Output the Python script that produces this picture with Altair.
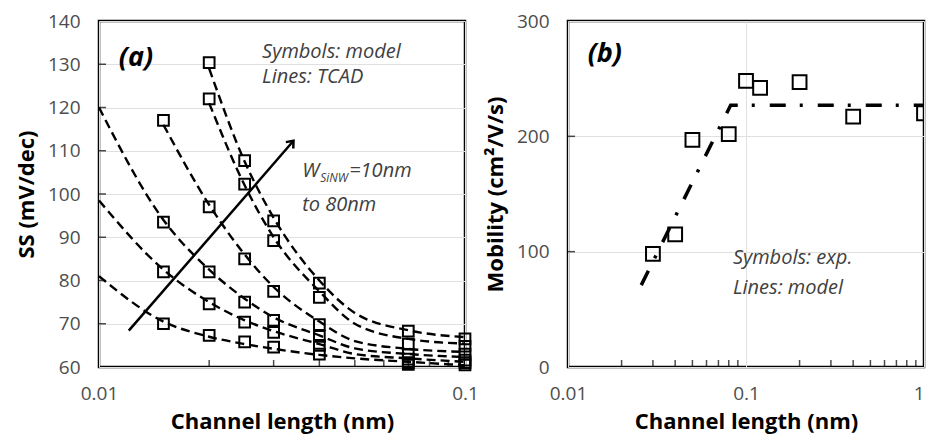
import altair as alt
import pandas as pd

# ---------------- Panel (a): SS vs channel length ----------------
W_LABELS = ["W1", "W2", "W3", "W4", "W5", "W6"]

MODEL_L = [0.015, 0.02, 0.025, 0.03, 0.04, 0.07, 0.1]
MODEL_SS = [
    [70.0, 67.3, 65.8, 64.6, 63.0, 60.6, 60.5],
    [82.0, 74.6, 70.4, 68.0, 65.0, 61.0, 61.0],
    [93.5, 82.0, 75.0, 70.8, 67.1, 61.8, 61.6],
    [117.0, 97.0, 85.0, 77.5, 69.8, 62.9, 63.0],
    [None, 122.0, 102.3, 89.2, 76.1, 65.3, 64.8],
    [None, 130.4, 107.7, 93.8, 79.4, 68.3, 66.5],
]

TCAD_L = [0.01, 0.015, 0.02, 0.025, 0.03, 0.04, 0.05, 0.07, 0.1]
TCAD_SS = [
    [81.0, 70.5, 67.0, 65.3, 64.2, 62.8, 62.0, 61.2, 60.4],
    [98.5, 82.5, 75.0, 70.8, 68.3, 65.3, 63.0, 62.0, 61.2],
    [120.0, 94.0, 82.5, 75.8, 71.5, 67.3, 64.3, 63.0, 62.3],
    [None, 116.0, 97.5, 86.0, 78.5, 70.5, 66.0, 64.2, 63.5],
    [None, None, 121.0, 102.0, 90.0, 77.5, 70.0, 66.5, 65.4],
    [None, None, 129.0, 107.5, 94.5, 80.0, 72.5, 68.5, 66.9],
]

ARROW_L = [0.01206, 0.034]
ARROW_SS = [68.4, 112.3]

SS_TICKS = [60, 70, 80, 90, 100, 110, 120, 130, 140]
A_MINOR_X = [0.02, 0.03, 0.04, 0.05, 0.06, 0.07, 0.08, 0.09]
A_MINOR_Y = [70, 80, 90, 100, 110, 120, 130]

# ---------------- Panel (b): mobility vs channel length ----------------
EXP_L = [0.03, 0.04, 0.05, 0.08, 0.1, 0.12, 0.2, 0.4, 1.0]
EXP_MOB = [98, 115, 197, 202, 248, 242, 247, 217, 220]
MODEL_L_B = [0.0258, 0.082, 1.0]
MODEL_MOB = [71, 227, 227]
MOB_TICKS = [0, 100, 200, 300]
B_MINOR_X = [0.02, 0.03, 0.04, 0.05, 0.06, 0.07, 0.08, 0.09,
             0.2, 0.3, 0.4, 0.5, 0.6, 0.7, 0.8, 0.9]
B_MINOR_Y = [100, 200]

FONT = "Open Sans"
LABEL_COLOR = "#4d4d4d"
NOTE_COLOR = "#404040"
WA, WB, H = 366, 356, 346

def build_long(xs, rows):
    recs = []
    for name, row in zip(W_LABELS, rows):
        for x, y in zip(xs, row):
            if y is not None:
                recs.append({"L": x, "v": y, "s": name})
    return pd.DataFrame(recs)

model_df = build_long(MODEL_L, MODEL_SS)
tcad_df = build_long(TCAD_L, TCAD_SS)
arrow_df = pd.DataFrame({"L": ARROW_L, "v": ARROW_SS})
arrow_tip = arrow_df.iloc[[-1]]

def x_enc(domain, values):
    return alt.X("L:Q", scale=alt.Scale(type="log", domain=domain),
                 axis=alt.Axis(values=values, format="~g", grid=True, gridColor="#e0e0e0",
                               domain=False, ticks=False, labelPadding=17, labelFontSize=19,
                               labelFlush=False,
                               labelAlign={"condition": {"test": "datum.value >= 1", "value": "right"},
                                           "value": "center"},
                               labelColor=LABEL_COLOR, labelFont=FONT,
                               title="Channel length (nm)", titleFont=FONT, titleFontSize=22,
                               titleFontWeight="bold", titleColor="black", titlePadding=8))

def y_enc(domain, values, title):
    return alt.Y("v:Q", scale=alt.Scale(domain=domain, nice=False, zero=False),
                 axis=alt.Axis(values=values, grid=True, gridColor="#e0e0e0", domain=False,
                               ticks=False, labelPadding=19, labelFontSize=19,
                               labelColor=LABEL_COLOR, labelFont=FONT,
                               title=title, titleFont=FONT, titleFontSize=22,
                               titleFontWeight="bold", titleColor="black", titlePadding=9))

note_style = dict(font=FONT, fontSize=20, fontStyle="italic", color=NOTE_COLOR,
                  align="left", baseline="alphabetic")

xa = x_enc([0.01, 0.1], [0.01, 0.1])
ya = y_enc([60, 140], SS_TICKS, "SS (mV/dec)")

a_lines = alt.Chart(tcad_df).mark_line(
    color="black", strokeWidth=2.4, strokeDash=[9, 5], interpolate="monotone", clip=True
).encode(x=xa, y=ya, detail="s:N")

a_pts = alt.Chart(model_df).mark_point(
    shape="square", filled=False, size=115, strokeWidth=2, color="black", opacity=1
).encode(x="L:Q", y="v:Q")

a_arrow = alt.Chart(arrow_df).mark_line(color="black", strokeWidth=2.5).encode(x="L:Q", y="v:Q")
a_head = alt.Chart(arrow_tip).mark_point(
    shape="M -0.9 1.1 L 0 0 L 0.9 1.1", filled=False, strokeWidth=2.5, color="black",
    size=120, angle=41, opacity=1
).encode(x="L:Q", y="v:Q")

a_xt = alt.Chart(pd.DataFrame({"L": A_MINOR_X})).mark_tick(
    orient="vertical", color="black", size=7, thickness=1.5
).encode(x="L:Q", y=alt.value(H - 3.5))
a_yt = alt.Chart(pd.DataFrame({"v": A_MINOR_Y})).mark_tick(
    orient="horizontal", color="black", size=7, thickness=1.5
).encode(y="v:Q", x=alt.value(3.5))

A_TEXT = ["(a)"]
A_TEXT_L = [0.01262]
A_TEXT_V = [131.5]
a_label = alt.Chart(pd.DataFrame({"L": A_TEXT_L, "v": A_TEXT_V, "t": A_TEXT})).mark_text(
    font=FONT, fontSize=27, fontWeight="bold", fontStyle="italic", color="black"
).encode(x="L:Q", y="v:Q", text="t:N")

NOTE_A = ["Symbols: model", "Lines: TCAD"]
NOTE_A_L = [0.0279, 0.0279]
NOTE_A_V = [131.4, 125.6]
a_note = alt.Chart(pd.DataFrame({"L": NOTE_A_L, "v": NOTE_A_V, "t": NOTE_A})).mark_text(
    **note_style
).encode(x="L:Q", y="v:Q", text="t:N")

W_L = [0.0359]
W_V = [103.9]
wdf = pd.DataFrame({"L": W_L, "v": W_V})
w_main = alt.Chart(wdf).mark_text(**note_style).encode(x="L:Q", y="v:Q", text=alt.value("W"))
w_sub = alt.Chart(wdf).mark_text(
    font=FONT, fontSize=12, fontStyle="italic", color=NOTE_COLOR, align="left",
    baseline="alphabetic", dx=18, dy=5
).encode(x="L:Q", y="v:Q", text=alt.value("SiNW"))
w_rest = alt.Chart(wdf).mark_text(**note_style, dx=47).encode(
    x="L:Q", y="v:Q", text=alt.value("=10nm"))
TO_L = [0.0359]
TO_V = [96.1]
w_to = alt.Chart(pd.DataFrame({"L": TO_L, "v": TO_V})).mark_text(**note_style).encode(
    x="L:Q", y="v:Q", text=alt.value("to 80nm"))

panel_a = alt.layer(a_lines, a_pts, a_arrow, a_head, a_xt, a_yt, a_label, a_note,
                    w_main, w_sub, w_rest, w_to).properties(width=WA, height=H)

# ---------------- Panel (b) ----------------
exp_df = pd.DataFrame({"L": EXP_L, "v": EXP_MOB})
mod_df = pd.DataFrame({"L": MODEL_L_B, "v": MODEL_MOB})

xb = x_enc([0.01, 1.0], [0.01, 0.1, 1.0])
yb = y_enc([0, 300], MOB_TICKS, "Mobility (cm²/V/s)")

b_line = alt.Chart(mod_df).mark_line(
    color="black", strokeWidth=3.5, strokeDash=[16, 14, 3, 15], clip=True
).encode(x=xb, y=yb)
b_pts = alt.Chart(exp_df).mark_point(
    shape="square", filled=False, size=190, strokeWidth=2, color="black", opacity=1, clip=True
).encode(x="L:Q", y="v:Q")
b_xt = alt.Chart(pd.DataFrame({"L": B_MINOR_X})).mark_tick(
    orient="vertical", color="black", size=7, thickness=1.5
).encode(x="L:Q", y=alt.value(H - 3.5))
b_yt = alt.Chart(pd.DataFrame({"v": B_MINOR_Y})).mark_tick(
    orient="horizontal", color="black", size=7, thickness=1.5
).encode(y="v:Q", x=alt.value(3.5))

B_TEXT = ["(b)"]
B_TEXT_L = [0.0161]
B_TEXT_V = [271]
b_label = alt.Chart(pd.DataFrame({"L": B_TEXT_L, "v": B_TEXT_V, "t": B_TEXT})).mark_text(
    font=FONT, fontSize=27, fontWeight="bold", fontStyle="italic", color="black"
).encode(x="L:Q", y="v:Q", text="t:N")

NOTE_B = ["Symbols: exp.", "Lines: model"]
NOTE_B_L = [0.0844, 0.0844]
NOTE_B_V = [89, 63]
b_note = alt.Chart(pd.DataFrame({"L": NOTE_B_L, "v": NOTE_B_V, "t": NOTE_B})).mark_text(
    **note_style
).encode(x="L:Q", y="v:Q", text="t:N")

panel_b = alt.layer(b_line, b_pts, b_xt, b_yt, b_label, b_note).properties(width=WB, height=H)

chart = alt.hconcat(panel_a, panel_b, spacing=103, bounds="flush").properties(
    padding={"left": 6, "top": 2, "right": 0, "bottom": 0}
).configure(background="white").configure_view(stroke="black", strokeWidth=2.5)

chart.save("out.html", embed_options={"renderer": "svg", "actions": False})
